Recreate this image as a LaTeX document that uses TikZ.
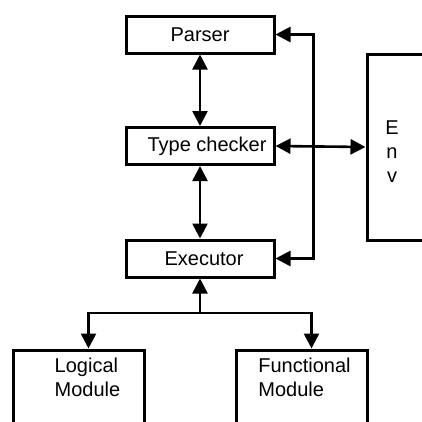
\documentclass[tikz,border=0pt]{standalone}
\usepackage{fontspec}
\setmainfont{Liberation Sans}
\usepackage{tikz}
\usetikzlibrary{arrows.meta,positioning}
\tikzset{
  block/.style={rectangle, draw=black, line width=3pt, fill=white,
                font=\fontsize{20}{24}\selectfont, inner sep=0pt},
  link/.style={line width=2.6pt, black},
  tip/.style={-{Triangle[length=15pt,width=15pt]}},
  dtip/.style={{Triangle[length=15pt,width=15pt]}-{Triangle[length=15pt,width=15pt]}},
}

\begin{document}
\begin{tikzpicture}[x=1pt, y=-1pt,
    stage/.style={block, minimum width=148pt, minimum height=37pt},
    module/.style={block, minimum width=131pt, minimum height=100pt},
    label/.style={font=\fontsize{20}{24}\selectfont, align=left, inner sep=0pt}
]
\useasboundingbox (0,0) rectangle (422,421);
\clip (0,0) rectangle (422,421);

% Pipeline
\node[stage] (parser) at (200,34.5) {Parser};
\node[stage] (checker) at (200,146) {\hspace*{14pt}Type checker};
\node[stage] (executor) at (200,258.5) {\hspace*{8pt}Executor};

% Environment
\node[block, minimum width=103pt, minimum height=186pt] (env) at (418.5,147) {};
\node[label, align=center] (envtext) at (392,152) {E\\n\\v};

% Modules
\node[module] (logical) at (78.5,400) {};
\node[module] (functional) at (301.5,400) {};
\node[label, below=9pt of logical.north, xshift=9pt] (logtext) {Logical\\Module};
\node[label, below=9pt of functional.north, xshift=3pt] (funtext) {Functional\\Module};

% Links
\draw[link, dtip] (parser) -- (checker);
\draw[link, dtip] (checker) -- (executor);
\draw[link, dtip] (checker.east) -- (env.west);
\draw[link, dtip] (parser.east) -- ++(38,0) |- (executor.east);

% Branch
\coordinate (fork) at (200,313);
\draw[link, tip] (fork) -- (executor.south);
\draw[link, tip] (fork) -| ([xshift=10pt]logical.north);
\draw[link, tip] (fork) -| ([xshift=10pt]functional.north);
\end{tikzpicture}
\end{document}
